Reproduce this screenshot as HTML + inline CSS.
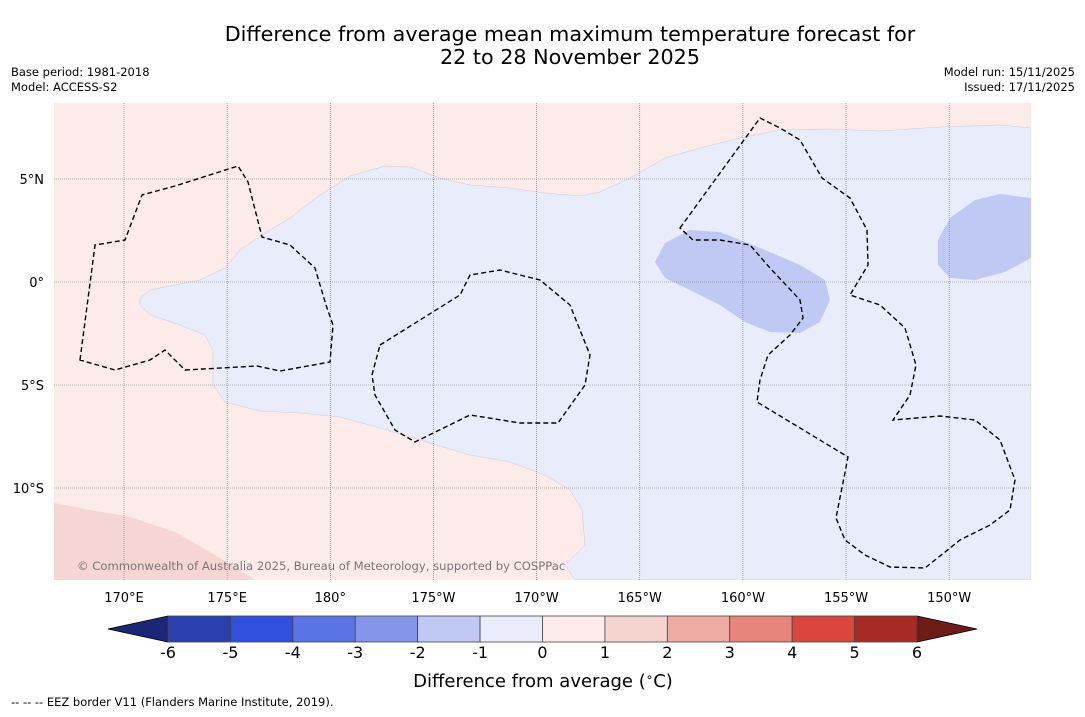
<!DOCTYPE html>
<html><head><meta charset="utf-8"><style>
html,body{margin:0;padding:0;background:#fff;}
body{width:1085px;height:713px;overflow:hidden;font-family:"DejaVu Sans","Liberation Sans",sans-serif;}
</style></head><body>
<svg id="chart" width="1085" height="713" xmlns="http://www.w3.org/2000/svg" font-family="DejaVu Sans, Liberation Sans, sans-serif">
<text x="570" y="41" font-size="20.7" text-anchor="middle">Difference from average mean maximum temperature forecast for</text>
<text x="570" y="64" font-size="20.7" text-anchor="middle">22 to 28 November 2025</text>
<text x="11" y="76" font-size="11.5">Base period: 1981-2018</text>
<text x="11" y="91" font-size="11.5">Model: ACCESS-S2</text>
<text x="1075" y="76" font-size="11.5" text-anchor="end">Model run: 15/11/2025</text>
<text x="1075" y="91" font-size="11.5" text-anchor="end">Issued: 17/11/2025</text>
<defs><clipPath id="mapclip"><rect x="54" y="103" width="977" height="477"/></clipPath></defs>
<g id="map" clip-path="url(#mapclip)">
<rect x="54" y="103" width="977" height="477" fill="#fcebe8"/>
<path fill="#e9ecfb" stroke="#c9c9d8" stroke-width="0.5" d="M140,298 L150,290 175,285 200,280 225,268 240,250 262,235 290,218 320,195 350,176 385,166 410,167 440,178 470,185 510,188 545,193 580,196 600,192 630,178 665,158 700,148 740,138 780,130 830,129 880,131 940,127 1000,125 1031,128 1031,580 575,580 565,565 585,545 582,510 570,490 545,475 510,462 470,455 420,440 380,428 340,417 300,413 260,411 225,402 213,385 213,350 205,335 180,325 150,315 140,305 Z"/>
<path fill="#c0c8f4" d="M655,262 L665,243 690,230 720,232 760,248 800,265 825,280 830,300 820,322 800,333 770,332 745,322 720,305 690,290 665,278 Z"/>
<path fill="#c0c8f4" d="M938,240 L950,218 975,200 1000,194 1031,198 1031,258 1005,272 975,280 950,278 938,265 Z"/>
<path fill="#f5d6d2" d="M54,503 L90,510 130,517 175,532 210,552 240,570 255,580 54,580 Z"/>
<g id="grid" stroke="#777" stroke-width="0.6" stroke-dasharray="1,1"></g>
<g fill="none" stroke="#000" stroke-width="1.4" stroke-dasharray="5,3">
<path d="M80,360 L95,245 125,240 142,195 175,186 238,166 248,182 262,237 290,245 315,268 326,305 333,325 330,362 280,371 257,366 185,370 165,350 150,360 115,370 Z"/>
<path d="M380,345 L460,295 470,275 500,270 540,280 570,305 590,355 585,385 558,423 520,423 470,415 415,442 395,430 375,395 372,375 Z"/>
<path d="M680,228 L760,118 780,128 800,140 822,178 850,198 867,230 868,265 850,295 880,305 905,328 916,365 910,395 893,420 940,416 975,420 1000,440 1015,480 1010,510 990,525 960,540 925,568 890,567 865,555 845,540 836,518 848,457 757,402 760,380 768,355 790,335 803,318 800,300 770,268 750,245 720,240 693,240 Z"/>
</g>
<text x="77" y="570" font-size="11.6" fill="#777">© Commonwealth of Australia 2025, Bureau of Meteorology, supported by COSPPac</text>
</g>
<g id="axislabels" font-size="13"></g>
<g id="colorbar"></g>
<text x="543" y="687" font-size="18" text-anchor="middle">Difference from average (<tspan font-size="12" dy="-6">∘</tspan><tspan dy="6">C)</tspan></text>
<text x="11" y="706" font-size="11.5">--  --  -- EEZ border V11 (Flanders Marine Institute, 2019).</text>
</svg>
<script>
const lonLabels = ["170°E","175°E","180°","175°W","170°W","165°W","160°W","155°W","150°W"];
const lonValues = [170,175,180,185,190,195,200,205,210];
const latLabels = ["5°N","0°","5°S","10°S"];
const latValues = [5,0,-5,-10];
const cbLevels = [-6,-5,-4,-3,-2,-1,0,1,2,3,4,5,6];
const cbColors = ["#2a3fae","#3050e0","#5a74e3","#8596ea","#c0c8f4","#eaecfb","#fcebe8","#f5d3cf","#edaaa3","#e6857c","#d9473c","#a82a24"];
const ns="http://www.w3.org/2000/svg";
const xLon = v => 124 + (v-170)*20.63;
const yLat = v => 282 - v*20.6;
const xCb = v => 168 + (v+6)*(749/12);
function mk(tag, attrs, parent){const e=document.createElementNS(ns,tag);for(const k in attrs)e.setAttribute(k,attrs[k]);parent.appendChild(e);return e;}
const grid=document.getElementById('grid'), al=document.getElementById('axislabels'), cb=document.getElementById('colorbar');
lonValues.forEach((v,i)=>{
  const l=mk('line',{x1:xLon(v),x2:xLon(v),y1:103,y2:580},grid);
  
  
  const t=mk('text',{x:xLon(v),y:602,'text-anchor':'middle'},al);
  
  
  t.textContent=lonLabels[i];
});
latValues.forEach((v,i)=>{
  const l=mk('line',{x1:54,x2:1031,y1:yLat(v),y2:yLat(v)},grid);
  
  
  const t=mk('text',{x:44,y:yLat(v)+5,'text-anchor':'end'},al);
  
  
  t.textContent=latLabels[i];
});
const lt=mk('polygon',{points:`${xCb(-6)},616 108,629 ${xCb(-6)},642`,fill:'#1b2677',stroke:'#000','stroke-width':0.8},cb);


const rt=mk('polygon',{points:`${xCb(6)},616 977,629 ${xCb(6)},642`,fill:'#6e1c18',stroke:'#000','stroke-width':0.8},cb);


cbColors.forEach((c,i)=>{
  const r=mk('rect',{x:xCb(cbLevels[i]),y:616,width:xCb(cbLevels[i+1])-xCb(cbLevels[i]),height:26,fill:c,stroke:'#444','stroke-width':0.8},cb);
  
  
});
cbLevels.forEach(v=>{
  const t=mk('text',{x:xCb(v),y:658,'text-anchor':'middle','font-size':16},cb);
  
  
  t.textContent=String(v);
});
</script>
</body></html>
